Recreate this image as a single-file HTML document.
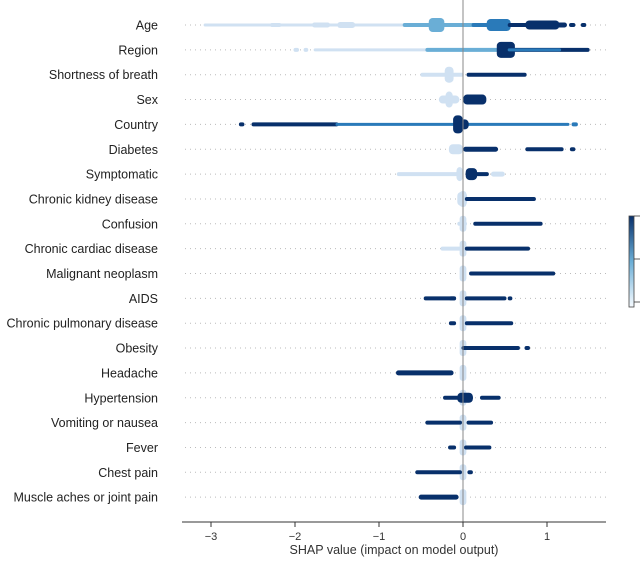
<!DOCTYPE html>
<html><head><meta charset="utf-8"><style>
body{margin:0;background:#fff;}
svg text{font-family:"Liberation Sans",Arial,sans-serif;}
</style></head><body>
<svg id="chart" width="640" height="558" viewBox="0 0 640 558" xmlns="http://www.w3.org/2000/svg">
<g id="guides"></g>
<g id="marks"></g>
<g id="labels"></g>
<g id="xaxis"></g>
<text x="394" y="554" font-size="12.5" text-anchor="middle" fill="#333">SHAP value (impact on model output)</text>
<defs><linearGradient id="cb" x1="0" y1="1" x2="0" y2="0"><stop offset="0" stop-color="#f7fbff"/><stop offset="0.5" stop-color="#6baed6"/><stop offset="1" stop-color="#08306b"/></linearGradient></defs>
<g>
<rect x="629" y="216" width="5" height="91" fill="url(#cb)" stroke="#444" stroke-width="0.8"/>
<line x1="634" y1="259" x2="640" y2="259" stroke="#333" stroke-width="0.8"/>
<line x1="634" y1="302" x2="640" y2="302" stroke="#333" stroke-width="0.8"/>
<line x1="634" y1="216" x2="640" y2="216" stroke="#333" stroke-width="0.8"/>
</g>
</svg>
<script>
const features=["Age","Region","Shortness of breath","Sex","Country","Diabetes","Symptomatic","Chronic kidney disease","Confusion","Chronic cardiac disease","Malignant neoplasm","AIDS","Chronic pulmonary disease","Obesity","Headache","Hypertension","Vomiting or nausea","Fever","Chest pain","Muscle aches or joint pain"];
const xTicks=[-3,-2,-1,0,1];
// segments: feature index, from SHAP, to SHAP, color level (0 light..3 dark), density (thickness)
const segFeature=[0,0,0,0,0,0,0,0,0,0,0,0,0, 1,1,1,1,1,1,1, 2,2,2, 3,3,3, 4,4,4,4,4,4, 5,5,5,5, 6,6,6,6,6, 7,7, 8,8, 9,9, 10, 11,11,11,11, 12,12, 13,13, 14, 15,15,15, 16,16, 17,17, 18,18, 19];
const segFrom=[-3.07,-2.28,-1.78,-1.48,-0.7,-0.39,0.12,0.3,0.55,0.76,1.13,1.28,1.42, -2.0,-1.88,-1.76,-0.43,0.55,0.42,0.55, -0.49,-0.2,0.06, -0.27,-0.19,0.02, -2.65,-2.5,-1.5,-0.1,-0.02,1.31, -0.15,0.02,0.76,1.29, -0.77,-0.06,0.05,0.05,0.35, -0.05,0.04, -0.05,0.14, -0.25,0.04, 0.09, -0.45,-0.15,0.04,0.55, -0.15,0.04, 0.0,0.75, -0.78, -0.22,-0.05,0.22, -0.43,0.06, -0.16,0.03, -0.55,0.07, -0.51];
const segTo=[-0.7,-2.18,-1.6,-1.3,0.12,-0.24,0.3,0.55,0.76,1.13,1.22,1.32,1.45, -1.97,-1.86,-0.43,0.55,1.49,0.6,1.15, -0.01,-0.13,0.74, -0.06,-0.14,0.26, -2.62,-1.5,1.25,-0.02,0.05,1.35, -0.02,0.4,1.18,1.32, -0.04,-0.02,0.29,0.15,0.48, 0.03,0.85, 0.03,0.93, -0.03,0.78, 1.08, -0.1,-0.1,0.5,0.57, -0.1,0.58, 0.66,0.78, -0.13, 0.1,0.1,0.43, -0.03,0.34, -0.1,0.32, -0.03,0.1, -0.07];
const segLevel=[0,0,0,0,1,1,2,2,3,3,3,3,3, 0,0,0,1,3,3,2, 0,0,3, 0,0,3, 3,3,2,3,3,2, 0,3,3,3, 0,0,3,3,0, 0,3, 0,3, 0,3, 3, 3,3,3,3, 3,3, 3,3, 3, 3,3,3, 3,3, 3,3, 3,3, 3];
const segDensity=[3,4,5,6,4,14,4,12,4,9,5,4,4, 4,4,3,4,4,16,3, 4,16,4, 8,16,10, 4,4,3,18,10,4, 10,5,4,4, 4,14,4,12,5, 14,4, 4,4, 4,4, 4, 4,4,4,4, 4,4, 4,4, 5, 4,10,4, 4,4, 4,4, 4,4, 5];
const zeroFeatures=[7,8,9,10,11,12,13,14,15,16,17,18,19];

const X0=463, PX=84, Y0=25, DY=24.85;
const sx=v=>X0+v*PX, sy=i=>Y0+i*DY;
const colors=["#d0e1f2","#6aaed6","#2a7ab9","#08306b"];
const NS="http://www.w3.org/2000/svg";
function mk(tag,attrs,parent){const e=document.createElementNS(NS,tag);for(const k in attrs)e.setAttribute(k,attrs[k]);parent.appendChild(e);return e;}
const guides=document.getElementById('guides'),marks=document.getElementById('marks'),labels=document.getElementById('labels'),xaxis=document.getElementById('xaxis');

features.forEach((f,i)=>{
  const g=mk('line',{x1:185,x2:606,y1:sy(i),y2:sy(i),stroke:'#bbb','stroke-width':1,'stroke-dasharray':'1,4'},guides);
  
  
  const t=mk('text',{x:158,y:sy(i)+4.5,'font-size':12.5,'text-anchor':'end',fill:'#222'},labels);
  t.textContent=f;
  
  
});
zeroFeatures.forEach(i=>{
  const r=mk('rect',{x:sx(-0.04),y:sy(i)-8,width:PX*0.08,height:16,rx:3,fill:colors[0]},marks);
  
  
});
segFeature.forEach((fi,k)=>{
  const x1=sx(segFrom[k]),x2=sx(segTo[k]),h=segDensity[k];
  const r=mk('rect',{x:Math.min(x1,x2)-1.5,y:sy(fi)-h/2,width:Math.abs(x2-x1)+3,height:h,rx:Math.min(4,h/2),fill:colors[segLevel[k]]},marks);
  
  
});
const zl=mk('line',{x1:X0,x2:X0,y1:0,y2:522,stroke:'#888','stroke-width':1},xaxis);


const ax=mk('line',{x1:182,x2:606,y1:522,y2:522,stroke:'#333','stroke-width':1},xaxis);


xTicks.forEach(v=>{
  const tk=mk('line',{x1:sx(v),x2:sx(v),y1:522,y2:527,stroke:'#333','stroke-width':1},xaxis);
  
  
  const t=mk('text',{x:sx(v),y:540,'font-size':11,'text-anchor':'middle',fill:'#333'},xaxis);
  t.textContent=v<0?'\u2212'+Math.abs(v):String(v);
  
  
});
</script>
</body></html>
